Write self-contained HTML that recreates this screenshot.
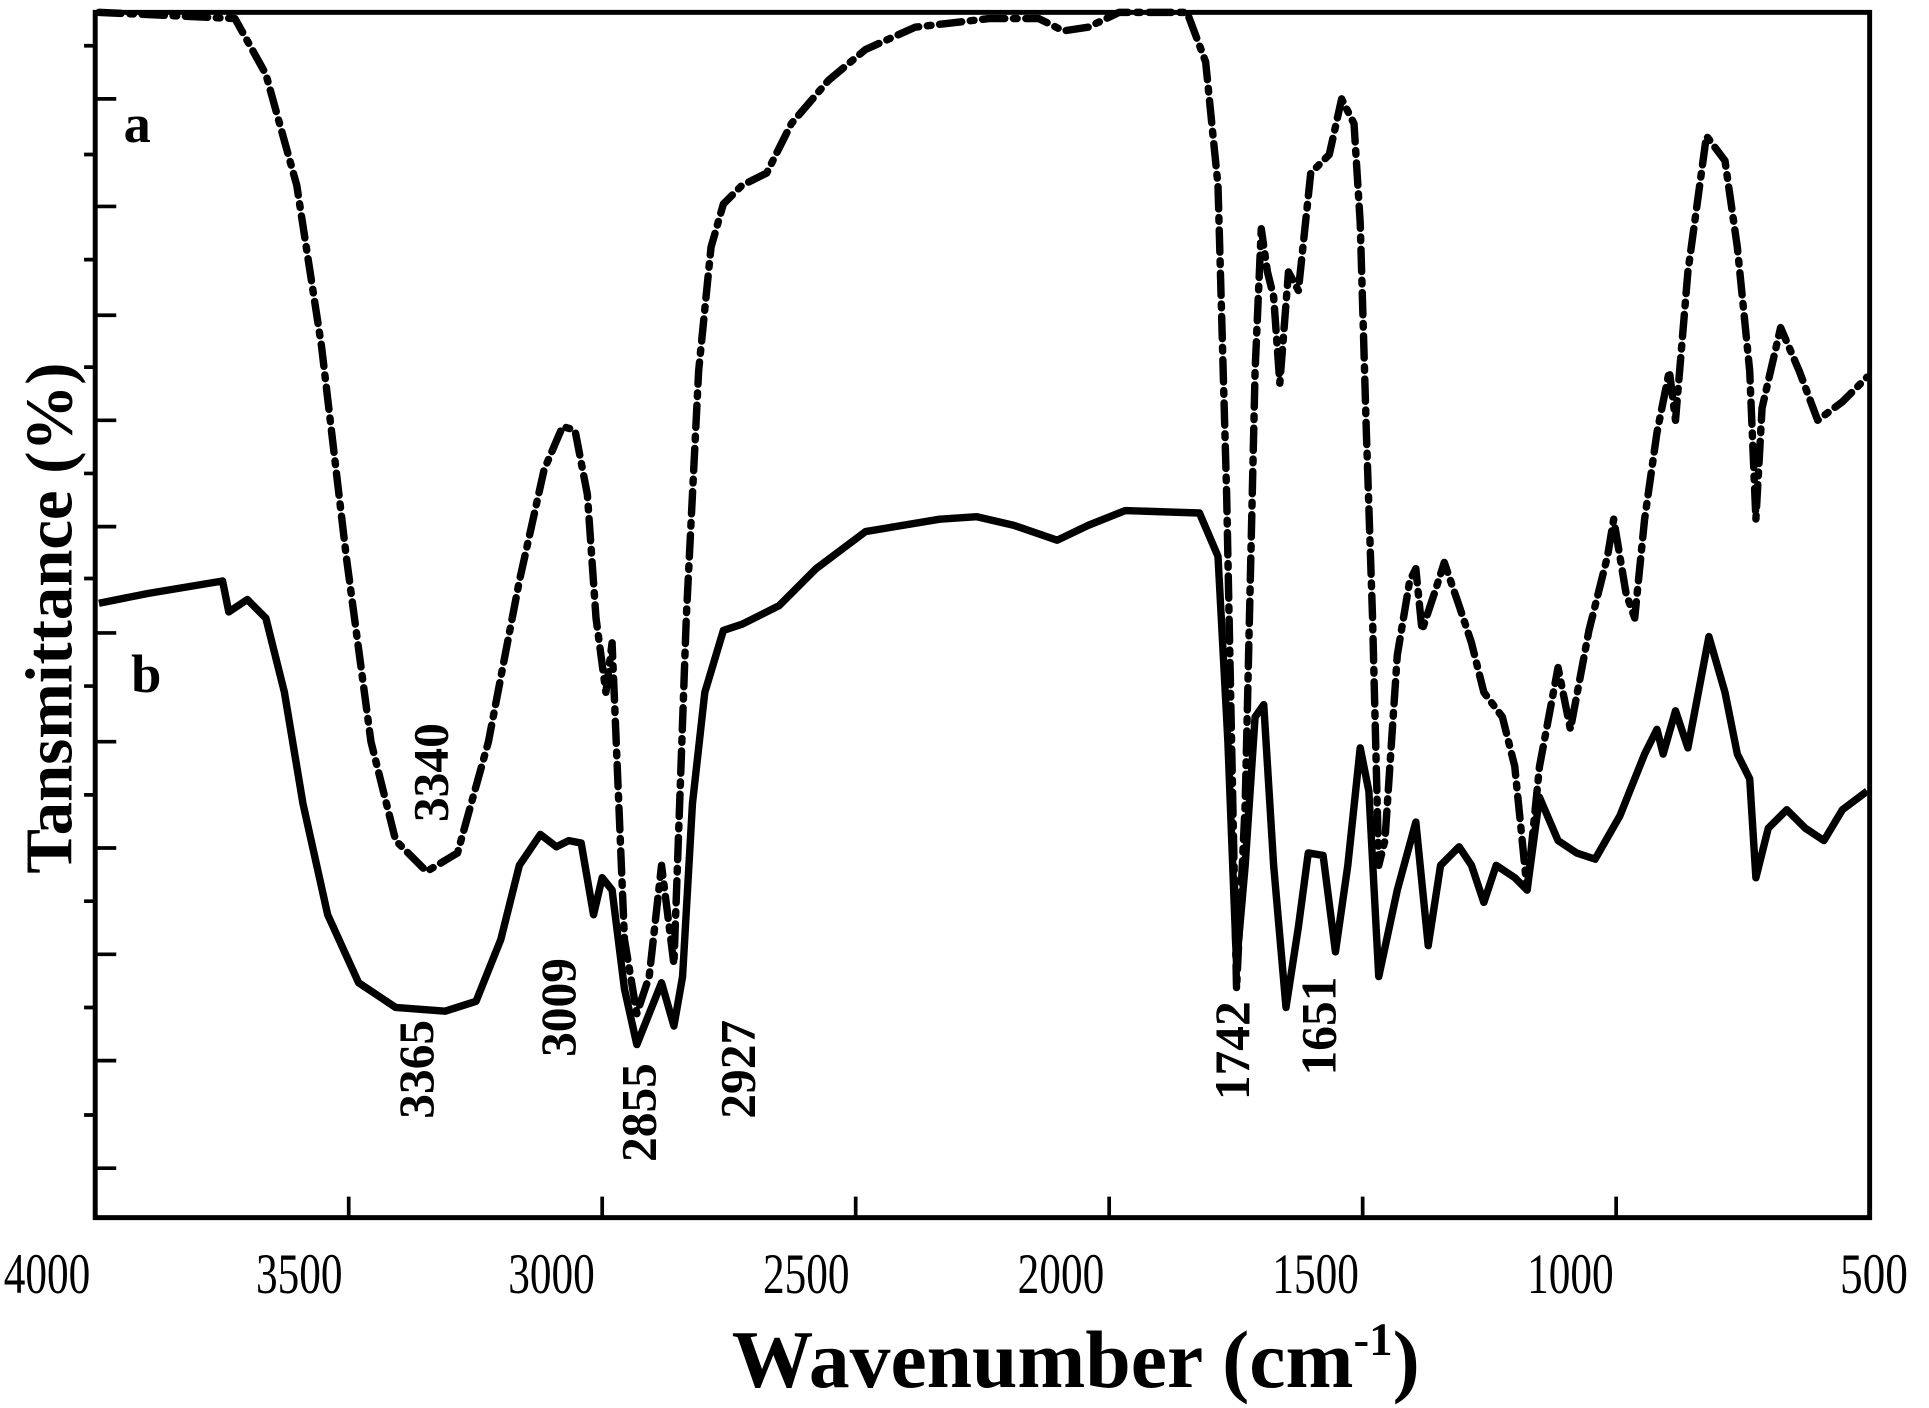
<!DOCTYPE html>
<html><head><meta charset="utf-8"><style>
html,body{margin:0;padding:0;background:#fff;}
svg{display:block;}
text{font-family:"Liberation Serif",serif;fill:#000;}
</style></head><body>
<svg width="1929" height="1408" viewBox="0 0 1560 1139" preserveAspectRatio="none" xmlns="http://www.w3.org/2000/svg">
<g stroke="#000" fill="none">
<rect x="77" y="10" width="1435" height="975" stroke-width="4"/>
<path stroke-width="3" d="M77 80h17M77 167h17M77 255h17M77 340h17M77 426h17M77 512h17M77 600h17M77 686h17M77 772h17M77 858h17M77 945h17
M68 37h9M68 125h9M68 210h9M68 297h9M68 383h9M68 468h9M68 555h9M68 643h9M68 729h9M68 815h9M68 902h9
M282 985v-17M487 985v-17M692 985v-17M897 985v-17M1102 985v-17M1307 985v-17"/>
</g>
<path fill="none" stroke="#000" stroke-width="6" stroke-linejoin="round" stroke-linecap="round" stroke-dasharray="18 7 3 7"
d="M80 10 L190 15 L215 60 L240 150 L260 280 L280 450 L300 600 L320 680 L345 705 L370 690 L395 600 L420 470 L440 380 L455 345 L465 348 L475 400 L482 500 L490 560 L495 520 L500 640 L505 760 L515 820 L525 790 L535 700 L545 780 L555 500 L565 300 L575 200 L585 165 L600 150 L620 140 L640 100 L670 65 L700 40 L740 22 L800 15 L840 15 L860 25 L880 22 L905 10 L960 10 L975 50 L985 150 L992 400 L1000 800 L1007 650 L1015 300 L1020 185 L1025 220 L1030 240 L1035 310 L1042 220 L1050 235 L1060 140 L1075 125 L1085 80 L1095 100 L1100 180 L1105 350 L1110 500 L1115 700 L1120 680 L1130 530 L1140 470 L1145 460 L1150 510 L1160 480 L1168 455 L1180 490 L1190 520 L1200 560 L1215 580 L1225 620 L1235 720 L1245 620 L1260 540 L1270 590 L1285 510 L1300 450 L1305 420 L1315 480 L1322 500 L1330 420 L1340 350 L1350 300 L1355 340 L1365 220 L1380 110 L1395 130 L1405 200 L1415 300 L1420 420 L1425 330 L1440 265 L1455 300 L1470 340 L1490 325 L1510 305"/>
<path fill="none" stroke="#000" stroke-width="6" stroke-linejoin="round"
d="M80 488 L120 480 L180 470 L185 495 L200 485 L215 500 L230 560 L245 650 L265 740 L290 795 L320 815 L360 818 L385 810 L405 760 L420 700 L437 675 L450 685 L460 680 L470 682 L480 740 L487 710 L495 720 L505 800 L515 845 L525 820 L535 795 L545 830 L552 790 L560 650 L570 560 L585 510 L600 505 L630 490 L660 460 L700 430 L760 420 L790 418 L820 425 L855 437 L880 425 L910 413 L970 415 L985 450 L993 600 L1000 780 L1007 700 L1015 580 L1022 570 L1030 700 L1040 815 L1050 750 L1058 690 L1070 692 L1080 770 L1090 700 L1100 605 L1107 640 L1115 790 L1130 720 L1145 665 L1155 765 L1165 700 L1180 685 L1190 700 L1200 730 L1210 700 L1225 710 L1235 720 L1245 645 L1260 680 L1275 690 L1290 695 L1310 660 L1330 610 L1340 590 L1345 610 L1355 575 L1365 605 L1382 515 L1395 560 L1405 610 L1415 630 L1420 710 L1430 670 L1445 655 L1460 670 L1475 680 L1490 655 L1510 640"/>
<g font-weight="bold" font-size="40">
<text x="100" y="115" font-size="44">a</text>
<text x="106" y="560" font-size="44">b</text>
<text transform="translate(362,625) rotate(-90)" text-anchor="middle">3340</text>
<text transform="translate(350,865) rotate(-90)" text-anchor="middle">3365</text>
<text transform="translate(465,815) rotate(-90)" text-anchor="middle">3009</text>
<text transform="translate(530,900) rotate(-90)" text-anchor="middle">2855</text>
<text transform="translate(610,865) rotate(-90)" text-anchor="middle">2927</text>
<text transform="translate(1010,850) rotate(-90)" text-anchor="middle">1742</text>
<text transform="translate(1080,830) rotate(-90)" text-anchor="middle">1651</text>
<text transform="translate(58,500) rotate(-90)" text-anchor="middle" font-size="54">Tansmittance (%)</text>
</g>
<g font-size="46">
<text x="3" y="1046" textLength="70" lengthAdjust="spacingAndGlyphs">4000</text>
<text x="207" y="1046" textLength="70" lengthAdjust="spacingAndGlyphs">3500</text>
<text x="411" y="1046" textLength="70" lengthAdjust="spacingAndGlyphs">3000</text>
<text x="617" y="1046" textLength="70" lengthAdjust="spacingAndGlyphs">2500</text>
<text x="823" y="1046" textLength="70" lengthAdjust="spacingAndGlyphs">2000</text>
<text x="1029" y="1046" textLength="70" lengthAdjust="spacingAndGlyphs">1500</text>
<text x="1235" y="1046" textLength="70" lengthAdjust="spacingAndGlyphs">1000</text>
<text x="1488" y="1046" textLength="55" lengthAdjust="spacingAndGlyphs">500</text>
</g>
<text x="870" y="1122" text-anchor="middle" font-size="66" font-weight="bold">Wavenumber (cm<tspan dy="-26" font-size="38">-1</tspan><tspan dy="26">)</tspan></text>
</svg>
</body></html>
